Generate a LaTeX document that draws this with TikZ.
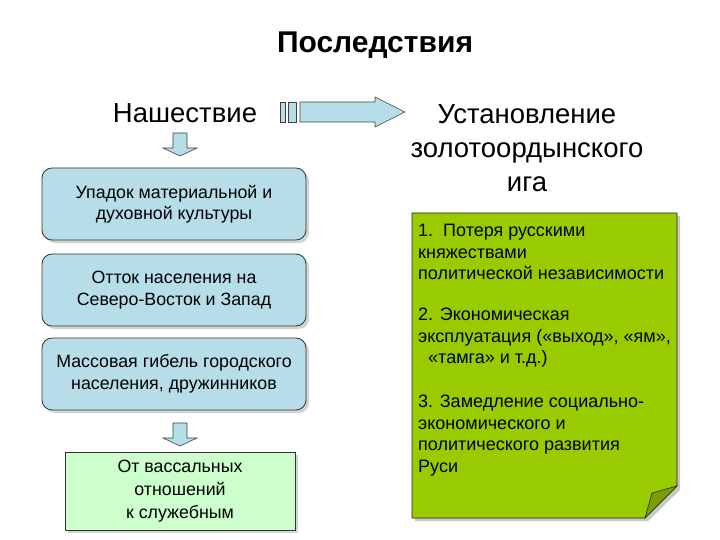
\documentclass[tikz,border=0pt]{standalone}
\usepackage{fontspec}
\setmainfont{Liberation Sans}
\usetikzlibrary{shadows}
\definecolor{boxblue}{HTML}{B7DDE8}
\definecolor{boxgreen}{HTML}{CCFFCC}
\definecolor{notegreen}{HTML}{99CC00}
\definecolor{foldgreen}{HTML}{7A9F00}
\definecolor{shadowgrey}{HTML}{C8C8C8}
\begin{document}
\begin{tikzpicture}[x=1pt,y=-1pt,
  heading/.style={font=\fontsize{27.5}{34}\selectfont, align=center, inner sep=0pt},
  bluebox/.style={draw=black!80, fill=boxblue, rounded corners=10pt, line width=0.8pt,
     minimum width=264pt, minimum height=72pt, align=center,
     font=\fontsize{17.8}{21.5}\selectfont,
     drop shadow={shadow xshift=3pt, shadow yshift=-3pt, fill=shadowgrey, opacity=0.8}},
  greenbox/.style={draw=black!80, fill=boxgreen, line width=0.8pt,
     minimum width=230pt, minimum height=78pt, align=center,
     font=\fontsize{17.8}{23}\selectfont,
     drop shadow={shadow xshift=3pt, shadow yshift=-3pt, fill=shadowgrey, opacity=0.8}},
  arrowshape/.style={draw=black!75, fill=boxblue, line width=0.6pt},
  notetext/.style={font=\fontsize{18}{21.5}\selectfont, align=left, anchor=north west, inner sep=0pt}
]
\useasboundingbox (0,0) rectangle (720,540);
\fill[white] (0,0) rectangle (720,540);

% title
\node[font=\fontsize{30}{34}\selectfont\bfseries] (title) at (375,45) {Последствия};

% headings
\node[heading] (invasion) at (185,113) {Нашествие};
\node[heading] (yoke) at (527,148) {Установление\\золотоордынского\\ига};

% horizontal arrow
\draw[arrowshape] (280,102) rectangle (285,122);
\draw[arrowshape] (288,102) rectangle (296,122);
\draw[arrowshape] (300,102) -- (375,102) -- (375,97) -- (405,112) -- (375,127) -- (375,122) -- (300,122) -- cycle;

% down arrow 1
\draw[arrowshape] (173,133) -- (187,133) -- (187,148) -- (197,148) -- (180,156) -- (163,148) -- (173,148) -- cycle;

% blue boxes
\node[bluebox] (b1) at (174,204) {Упадок материальной и\\духовной культуры};
\node[bluebox] (b2) at (174,290) {Отток населения на\\Северо-Восток и Запад};
\node[bluebox] (b3) at (174,374) {Массовая гибель городского\\населения, дружинников};

% down arrow 2
\draw[arrowshape] (173,423) -- (187,423) -- (187,438) -- (197,438) -- (180,446) -- (163,438) -- (173,438) -- cycle;

% green box
\node[greenbox] (g1) at (180,491) {От вассальных\\отношений\\ к служебным};

% note
\fill[shadowgrey] (415,216) -- (680,216) -- (680,490) -- (648,521) -- (415,521) -- cycle;
\draw[black!85, fill=notegreen, line width=0.8pt] (412,213) -- (677,213) -- (677,486) -- (645,518) -- (412,518) -- cycle;
\draw[black!85, fill=foldgreen, line width=0.6pt] (677,486) -- (652,493) -- (645,518) -- cycle;
\node[notetext] (n1) at (418,224) {1.\ \ Потеря русскими\\княжествами\\политической независимости};
\node[notetext] (n2) at (418,308) {2. Экономическая\\эксплуатация («выход», «ям»,\\\ \ «тамга» и т.д.)};
\node[notetext] (n3) at (418,395) {3. Замедление социально-\\экономического и\\политического развития\\Руси};
\end{tikzpicture}
\end{document}
